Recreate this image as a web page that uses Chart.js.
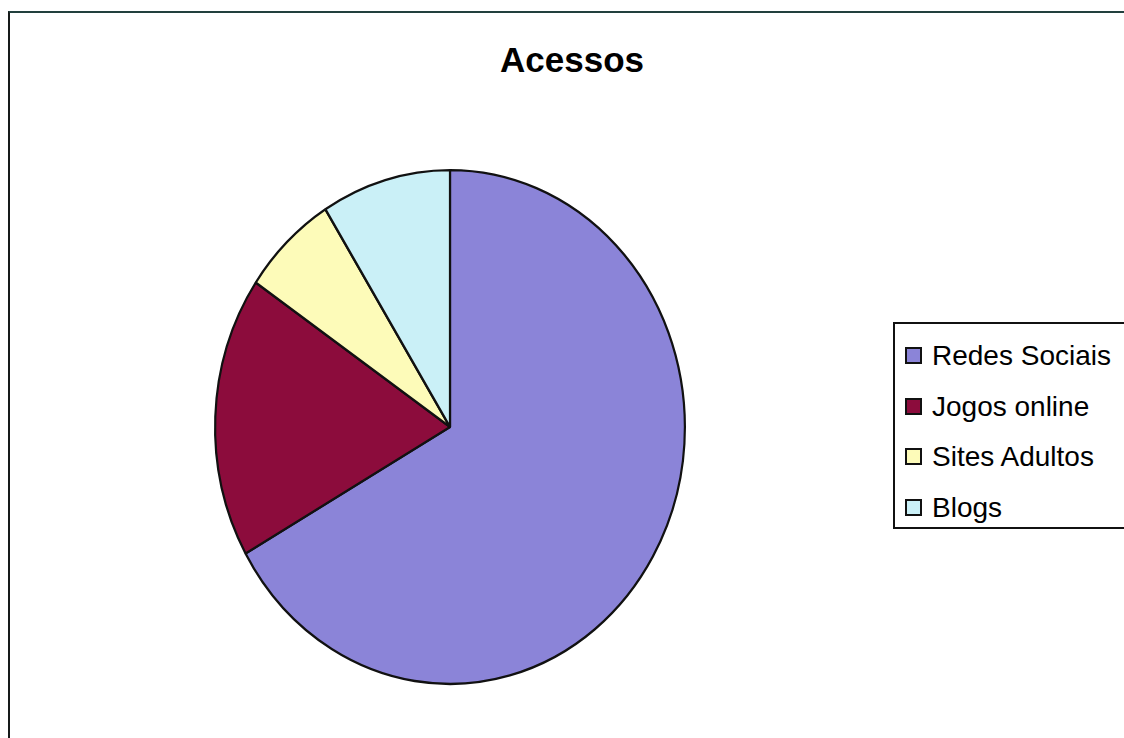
<!DOCTYPE html>
<html>
<head>
<meta charset="utf-8">
<script src="https://cdn.jsdelivr.net/npm/chart.js@4/dist/chart.umd.min.js"></script>
<style>
  html, body { margin:0; padding:0; background:#fff; width:1124px; height:738px; overflow:hidden; font-family:"Liberation Sans", Arial, sans-serif; }
  #wrap { position:relative; width:1124px; height:738px; }
  #frame { position:absolute; left:8px; top:11px; width:1130px; height:740px; border-left:2px solid #161a1a; border-top:2px solid #22403e; }
  #title { position:absolute; left:0; top:40px; width:1144px; text-align:center; font-weight:bold; font-size:35px; color:#000; }
  canvas { position:absolute; left:0; top:0; }
  #legend { position:absolute; left:893px; top:322px; width:240px; height:203px; border:2px solid #111; background:#fff; }
  .row { position:absolute; left:10px; height:30px; font-size:28px; line-height:30px; color:#000; white-space:nowrap; }
  .sw { display:inline-block; width:13px; height:13px; border:2px solid #111; margin-right:10px; vertical-align:1px; }
</style>
</head>
<body>
<div id="wrap">
  <div id="frame"></div>
  <div id="title">Acessos</div>
  <canvas id="c" width="1124" height="738"></canvas>
  <div id="legend"></div>
</div>
<script>
const categories = ["Redes Sociais", "Jogos online", "Sites Adultos", "Blogs"];
const values = [66.8, 17.7, 6.6, 8.9];
const colors = ["#8b84d8", "#8c0c3c", "#fdfbb9", "#caf0f7"];
const chartTitle = "Acessos";

document.getElementById('title').textContent = chartTitle;
const legend = document.getElementById('legend');
categories.forEach((c, i) => {
  const r = document.createElement('div');
  r.className = 'row';
  r.style.top = (17 + i * 50.5) + 'px';
  const s = document.createElement('span');
  s.className = 'sw';
  s.style.background = colors[i];
  r.appendChild(s);
  r.appendChild(document.createTextNode(c));
  legend.appendChild(r);
});

const stretch = {
  id: 'stretch',
  beforeDatasetsDraw(chart) {
    const arc = chart.getDatasetMeta(0).data[0];
    const ctx = chart.ctx;
    ctx.save();
    ctx.translate(arc.x, arc.y);
    ctx.scale(1, 257 / 235);
    ctx.translate(-arc.x, -arc.y);
  },
  afterDatasetsDraw(chart) { chart.ctx.restore(); }
};

new Chart(document.getElementById('c'), {
  type: 'pie',
  data: {
    labels: categories,
    datasets: [{ data: values, backgroundColor: colors, borderColor: '#111', borderWidth: 2.2 }]
  },
  options: {
    responsive: false,
    animation: false,
    layout: { padding: { left: 214, right: 438, top: 191, bottom: 75 } },
    plugins: { legend: { display: false }, title: { display: false }, tooltip: { enabled: false } }
  },
  plugins: [stretch]
});
</script>
</body>
</html>
